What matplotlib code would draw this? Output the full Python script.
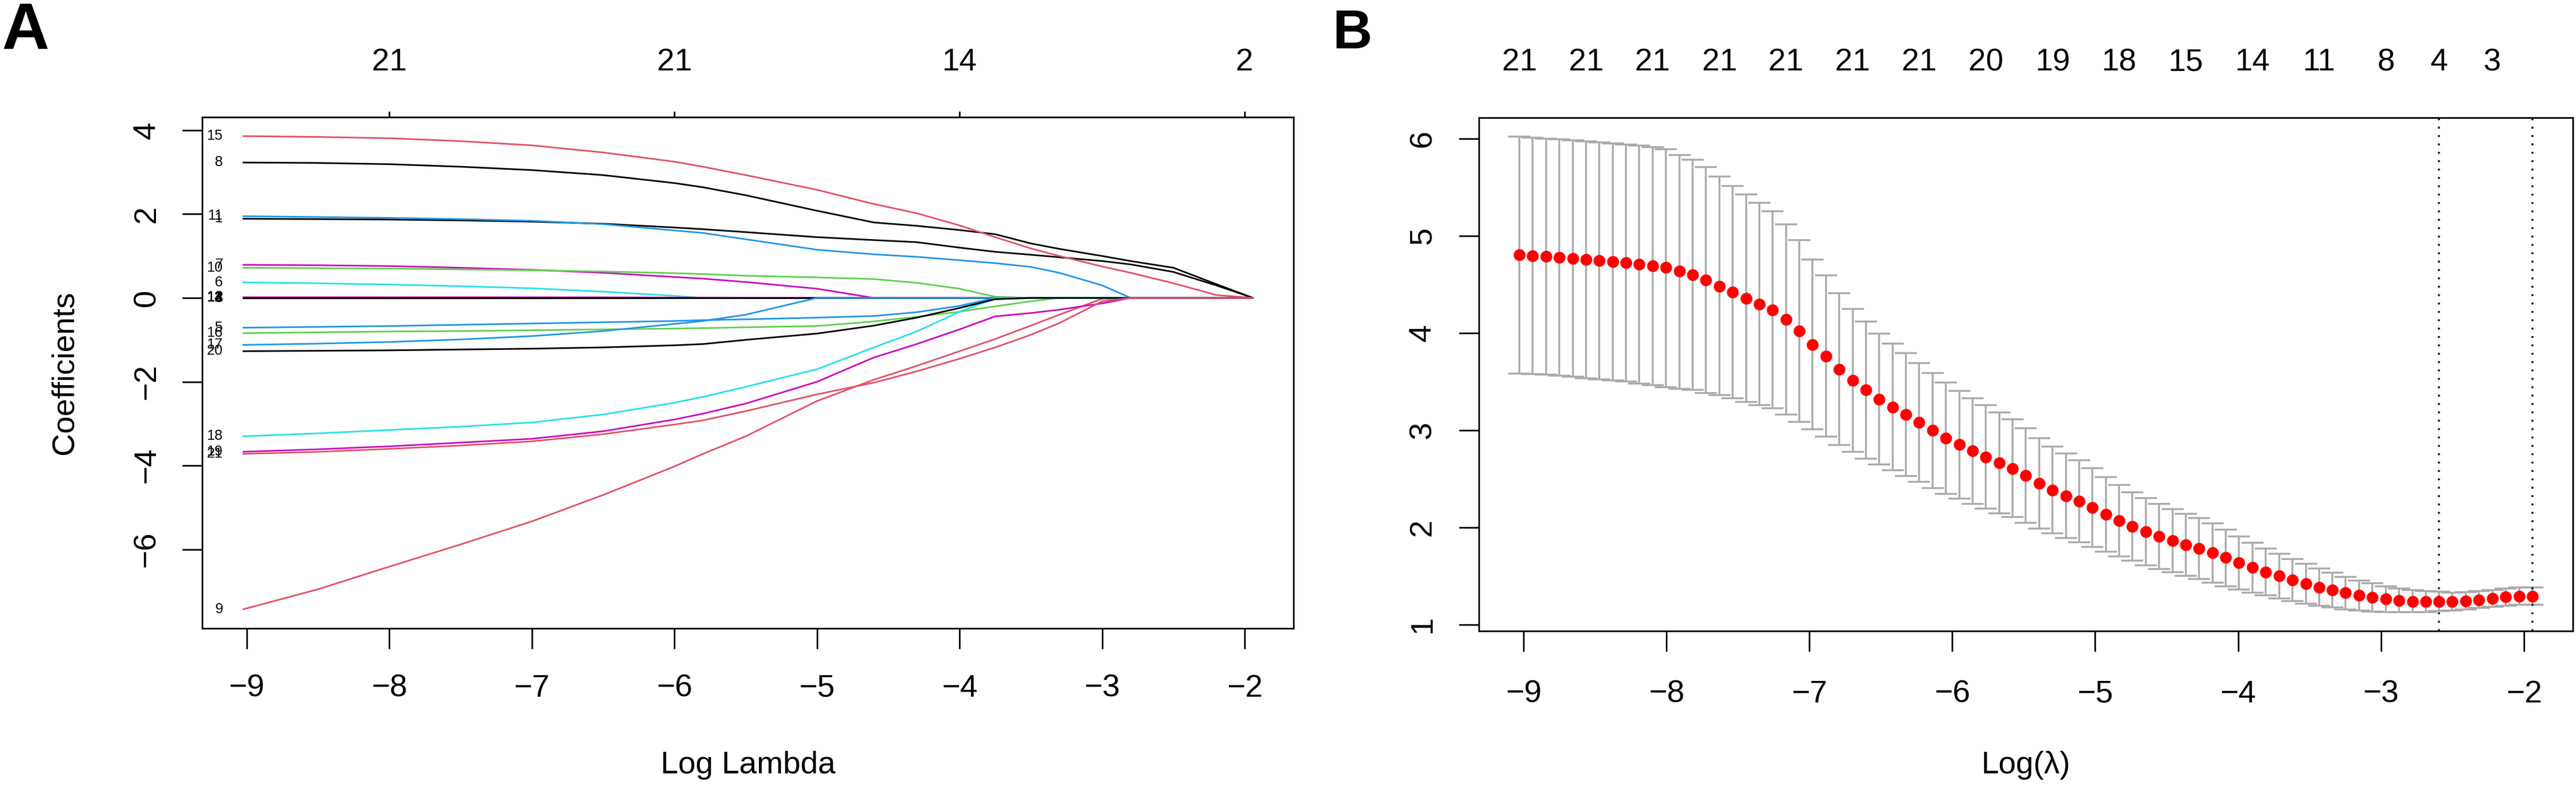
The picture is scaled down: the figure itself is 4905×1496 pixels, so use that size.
import matplotlib
matplotlib.use("Agg")
import matplotlib.pyplot as plt
import numpy as np

plt.rcParams['font.family'] = ['Liberation Sans', 'DejaVu Sans']
plt.rcParams['axes.unicode_minus'] = True

# ---- panel A: coefficient paths (values read at these log-lambda knots) ----
path_x = [-9.028, -8.5, -8.0, -7.5, -7.0, -6.5, -6.0, -5.8, -5.5, -5.0, -4.6,
          -4.3, -4.0, -3.75, -3.5, -3.3, -3.0, -2.8, -2.5, -2.2, -1.941]

b01 = [1.89, 1.88, 1.87, 1.85, 1.82, 1.77, 1.68, 1.64, 1.57, 1.45, 1.38, 1.33, 1.20, 1.10, 1.03, 0.97, 0.88, 0.80, 0.62, 0.30, 0.0]
b02 = [0.01, 0.01, 0.01, 0.01, 0.01, 0.01, 0.005, 0.0, 0.0, 0.0, 0.0, 0.0, 0.0, 0.0, 0.0, 0.0, 0.0, 0.0, 0.0, 0.0, 0.0]
b03 = [-0.01, -0.01, -0.01, -0.01, -0.01, -0.008, -0.005, 0.0, 0.0, 0.0, 0.0, 0.0, 0.0, 0.0, 0.0, 0.0, 0.0, 0.0, 0.0, 0.0, 0.0]
b04 = [0.005, 0.005, 0.005, 0.005, 0.004, 0.003, 0.002, 0.0, 0.0, 0.0, 0.0, 0.0, 0.0, 0.0, 0.0, 0.0, 0.0, 0.0, 0.0, 0.0, 0.0]
b05 = [-0.71, -0.69, -0.67, -0.64, -0.61, -0.58, -0.55, -0.53, -0.51, -0.47, -0.43, -0.34, -0.19, 0.0, 0.0, 0.0, 0.0, 0.0, 0.0, 0.0, 0.0]
b06 = [0.37, 0.35, 0.32, 0.28, 0.23, 0.15, 0.05, 0.0, 0.0, 0.0, 0.0, 0.0, 0.0, 0.0, 0.0, 0.0, 0.0, 0.0, 0.0, 0.0, 0.0]
b07 = [0.79, 0.78, 0.76, 0.72, 0.67, 0.60, 0.50, 0.46, 0.38, 0.22, 0.0, 0.0, 0.0, 0.0, 0.0, 0.0, 0.0, 0.0, 0.0, 0.0, 0.0]
b08 = [3.23, 3.22, 3.19, 3.13, 3.05, 2.93, 2.74, 2.64, 2.45, 2.08, 1.80, 1.72, 1.62, 1.52, 1.30, 1.17, 1.00, 0.88, 0.72, 0.33, 0.0]
b09 = [-7.43, -6.95, -6.41, -5.88, -5.33, -4.70, -4.02, -3.72, -3.30, -2.46, -1.95, -1.62, -1.27, -0.98, -0.66, -0.40, -0.02, 0.0, 0.0, 0.0, 0.0]
b10 = [0.72, 0.71, 0.70, 0.68, 0.66, 0.63, 0.59, 0.57, 0.53, 0.49, 0.45, 0.36, 0.22, 0.03, 0.0, 0.0, 0.0, 0.0, 0.0, 0.0, 0.0]
b11 = [1.95, 1.93, 1.91, 1.88, 1.84, 1.76, 1.61, 1.55, 1.40, 1.15, 1.04, 0.98, 0.90, 0.83, 0.74, 0.60, 0.30, 0.0, 0.0, 0.0, 0.0]
b12 = [-0.005, -0.005, -0.005, -0.004, -0.004, -0.003, -0.003, -0.002, -0.002, -0.001, -0.001, 0.0, 0.0, 0.0, 0.0, 0.0, 0.0, 0.0, 0.0, 0.0, 0.0]
b13 = [0.015, 0.015, 0.014, 0.014, 0.013, 0.012, 0.010, 0.009, 0.007, 0.004, 0.002, 0.001, 0.0, 0.0, 0.0, 0.0, 0.0, 0.0, 0.0, 0.0, 0.0]
b14 = [0.0, 0.0, 0.0, 0.0, 0.0, 0.0, 0.0, 0.0, 0.0, 0.0, 0.0, 0.0, 0.0, 0.0, 0.0, 0.0, 0.0, 0.0, 0.0, 0.0, 0.0]
b15 = [3.86, 3.84, 3.81, 3.74, 3.64, 3.47, 3.25, 3.13, 2.93, 2.58, 2.24, 2.02, 1.73, 1.45, 1.18, 1.00, 0.75, 0.60, 0.35, 0.07, 0.0]
b16 = [-0.84, -0.82, -0.80, -0.79, -0.77, -0.75, -0.73, -0.72, -0.70, -0.67, -0.56, -0.45, -0.33, -0.20, -0.08, 0.0, 0.0, 0.0, 0.0, 0.0, 0.0]
b17 = [-1.12, -1.09, -1.05, -0.99, -0.91, -0.79, -0.62, -0.55, -0.40, 0.0, 0.0, 0.0, 0.0, 0.0, 0.0, 0.0, 0.0, 0.0, 0.0, 0.0, 0.0]
b18 = [-3.30, -3.23, -3.15, -3.07, -2.97, -2.78, -2.50, -2.36, -2.12, -1.70, -1.18, -0.80, -0.33, -0.01, 0.0, 0.0, 0.0, 0.0, 0.0, 0.0, 0.0]
b19 = [-3.67, -3.61, -3.54, -3.45, -3.36, -3.18, -2.90, -2.76, -2.52, -2.00, -1.42, -1.10, -0.75, -0.44, -0.36, -0.28, -0.13, 0.0, 0.0, 0.0, 0.0]
b20 = [-1.27, -1.26, -1.25, -1.23, -1.21, -1.18, -1.13, -1.10, -1.00, -0.85, -0.66, -0.47, -0.24, -0.03, 0.0, 0.0, 0.0, 0.0, 0.0, 0.0, 0.0]
b21 = [-3.72, -3.67, -3.60, -3.52, -3.42, -3.25, -3.02, -2.92, -2.70, -2.30, -2.02, -1.75, -1.45, -1.18, -0.88, -0.60, -0.08, 0.0, 0.0, 0.0, 0.0]

paths = [b01, b02, b03, b04, b05, b06, b07, b08, b09, b10, b11,
         b12, b13, b14, b15, b16, b17, b18, b19, b20, b21]
path_cols = ['black', 'black', '#DF536B', '#61D04F', '#2297E6', '#28E2E5', '#CD0BBC',
             'black', '#DF536B', '#61D04F', '#2297E6', '#28E2E5', '#CD0BBC', 'black',
             '#DF536B', '#61D04F', '#2297E6', '#28E2E5', '#CD0BBC', 'black', '#DF536B']

a_top_at = [-8, -6, -4, -2]
a_top_labels = ['21', '21', '14', '2']

# ---- panel B: cross-validation curve ----
log_lambda = [-9.028, -8.935, -8.842, -8.748, -8.655, -8.562, -8.469, -8.375, -8.282, -8.189,
              -8.096, -8.002, -7.909, -7.816, -7.723, -7.629, -7.536, -7.443, -7.350, -7.256,
              -7.163, -7.070, -6.977, -6.883, -6.790, -6.697, -6.604, -6.510, -6.417, -6.324,
              -6.231, -6.137, -6.044, -5.951, -5.858, -5.764, -5.671, -5.578, -5.485, -5.391,
              -5.298, -5.205, -5.112, -5.018, -4.925, -4.832, -4.739, -4.645, -4.552, -4.459,
              -4.366, -4.272, -4.179, -4.086, -3.993, -3.899, -3.806, -3.713, -3.620, -3.526,
              -3.433, -3.340, -3.247, -3.153, -3.060, -2.967, -2.874, -2.780, -2.687, -2.594,
              -2.501, -2.407, -2.314, -2.221, -2.128, -2.034, -1.941]

cv_mean = [4.806, 4.794, 4.786, 4.777, 4.767, 4.755, 4.745, 4.733, 4.724, 4.709,
           4.692, 4.673, 4.637, 4.598, 4.545, 4.479, 4.419, 4.356, 4.298, 4.238,
           4.138, 4.022, 3.882, 3.759, 3.628, 3.510, 3.413, 3.319, 3.239, 3.162,
           3.080, 2.998, 2.920, 2.853, 2.787, 2.724, 2.664, 2.606, 2.533, 2.454,
           2.383, 2.325, 2.267, 2.202, 2.134, 2.067, 2.009, 1.958, 1.907, 1.864,
           1.822, 1.781, 1.738, 1.688, 1.634, 1.587, 1.542, 1.499, 1.457, 1.419,
           1.384, 1.354, 1.326, 1.301, 1.279, 1.261, 1.247, 1.238, 1.236, 1.234,
           1.239, 1.243, 1.252, 1.270, 1.283, 1.292, 1.293]

cv_up = [6.022, 6.010, 6.000, 5.991, 5.981, 5.971, 5.962, 5.952, 5.942, 5.930,
         5.913, 5.889, 5.833, 5.785, 5.705, 5.609, 5.514, 5.425, 5.338, 5.253,
         5.120, 4.958, 4.757, 4.591, 4.407, 4.247, 4.117, 3.994, 3.890, 3.796,
         3.692, 3.588, 3.493, 3.404, 3.331, 3.256, 3.181, 3.111, 3.019, 2.920,
         2.833, 2.763, 2.690, 2.608, 2.516, 2.434, 2.362, 2.301, 2.243, 2.190,
         2.139, 2.098, 2.042, 1.977, 1.906, 1.843, 1.783, 1.727, 1.674, 1.624,
         1.578, 1.535, 1.493, 1.455, 1.424, 1.393, 1.372, 1.357, 1.346, 1.337,
         1.330, 1.334, 1.343, 1.357, 1.372, 1.383, 1.383]

cv_lo = [3.585, 3.577, 3.570, 3.560, 3.548, 3.536, 3.524, 3.512, 3.500, 3.481,
         3.464, 3.444, 3.427, 3.413, 3.384, 3.360, 3.326, 3.292, 3.258, 3.224,
         3.159, 3.087, 3.009, 2.932, 2.850, 2.777, 2.709, 2.647, 2.587, 2.528,
         2.468, 2.405, 2.347, 2.294, 2.243, 2.195, 2.146, 2.105, 2.047, 1.989,
         1.939, 1.893, 1.849, 1.801, 1.752, 1.699, 1.656, 1.612, 1.573, 1.537,
         1.503, 1.467, 1.433, 1.393, 1.363, 1.330, 1.299, 1.270, 1.243, 1.216,
         1.194, 1.176, 1.158, 1.143, 1.136, 1.129, 1.127, 1.127, 1.131, 1.140,
         1.147, 1.158, 1.171, 1.185, 1.194, 1.203, 1.203]

lambda_min_idx = 69
lambda_1se_idx = 76
b_top_idx = [0, 5, 10, 15, 20, 25, 30, 35, 40, 45, 50, 55, 60, 65, 69, 73]
b_top_labels = ['21', '21', '21', '21', '21', '21', '21', '20', '19', '18',
                '15', '14', '11', '8', '4', '3']

FS = 14.4
LW = 0.75

fig = plt.figure(figsize=(16.35, 4.98667), dpi=300)
axA = fig.add_axes([0.07849, 0.20053, 0.42365, 0.65040])
axB = fig.add_axes([0.57411, 0.19686, 0.42467, 0.65374])

# panel A
for j, (vals, col) in enumerate(zip(paths, path_cols)):
    axA.plot(path_x, vals, color=col, lw=LW, solid_capstyle='butt')
    axA.annotate(str(j + 1), xy=(path_x[0], vals[0]), xytext=(-9, 0),
                 textcoords='offset points', ha='right', va='center', fontsize=6.6)

xs = np.array(path_x)
ys = np.concatenate([np.array(p) for p in paths])
xpad = 0.04 * (xs.max() - xs.min())
ypad = 0.04 * (ys.max() - ys.min())
axA.set_xlim(xs.min() - xpad, xs.max() + xpad)
axA.set_ylim(ys.min() - ypad, ys.max() + ypad)
axA.set_xticks([-9, -8, -7, -6, -5, -4, -3, -2])
axA.set_yticks([-6, -4, -2, 0, 2, 4])
axA.tick_params(axis='x', length=9.3, width=LW, pad=11.5, labelsize=FS)
axA.tick_params(axis='y', length=9.2, width=LW, pad=9.6, labelsize=FS, labelrotation=90)
for lab in axA.get_yticklabels():
    lab.set_verticalalignment('center')
secA = axA.secondary_xaxis('top')
secA.set_xticks(a_top_at, labels=a_top_labels)
secA.tick_params(length=2.6, width=LW, pad=15.8, labelsize=FS)
for s in list(axA.spines.values()) + list(secA.spines.values()):
    s.set_linewidth(LW)

# panel B
err_lo = np.array(cv_mean) - np.array(cv_lo)
err_up = np.array(cv_up) - np.array(cv_mean)
axB.errorbar(log_lambda, cv_mean, yerr=[err_lo, err_up], fmt='none', ecolor='darkgray',
             elinewidth=0.85, capsize=5, capthick=0.85)
axB.plot(log_lambda, cv_mean, 'o', color='red', ms=5.4, mec='red', mew=0, zorder=3)
axB.axvline(log_lambda[lambda_min_idx], color='black', lw=0.85, ls=(0, (1, 3.5)))
axB.axvline(log_lambda[lambda_1se_idx], color='black', lw=0.85, ls=(0, (1, 3.5)))

lx = np.array(log_lambda)
ly = np.concatenate([cv_lo, cv_up])
xpad = 0.04 * (lx.max() - lx.min())
ypad = 0.04 * (ly.max() - ly.min())
axB.set_xlim(lx.min() - xpad, lx.max() + xpad)
axB.set_ylim(ly.min() - ypad, ly.max() + ypad)
axB.set_xticks([-9, -8, -7, -6, -5, -4, -3, -2])
axB.set_yticks([1, 2, 3, 4, 5, 6])
axB.tick_params(axis='x', length=9.3, width=LW, pad=12.8, labelsize=FS)
axB.tick_params(axis='y', length=9.2, width=LW, pad=10.0, labelsize=FS, labelrotation=90)
for lab in axB.get_yticklabels():
    lab.set_verticalalignment('center')
secB = axB.secondary_xaxis('top')
secB.set_xticks([log_lambda[i] for i in b_top_idx], labels=b_top_labels)
secB.tick_params(length=0, pad=18.5, labelsize=FS)
for s in list(axB.spines.values()) + list(secB.spines.values()):
    s.set_linewidth(LW)

# axis titles and panel letters
H = 1496.0
W = 4905.0
fig.text(123 / W, 1 - 709 / H, 'Coefficients', rotation=90, ha='center', va='center', fontsize=FS)
fig.text(1424 / W, 1 - 1472 / H, 'Log Lambda', ha='center', va='baseline', fontsize=FS)
fig.text(3857 / W, 1 - 1472 / H, 'Log(\u03bb)', ha='center', va='baseline', fontsize=FS)
fig.text(4 / W, 1 - 93 / H, 'A', ha='left', va='baseline', fontsize=30, fontweight='bold')
fig.text(2538 / W, 1 - 92 / H, 'B', ha='left', va='baseline', fontsize=25, fontweight='bold')

fig.savefig('out.png', dpi=300)
